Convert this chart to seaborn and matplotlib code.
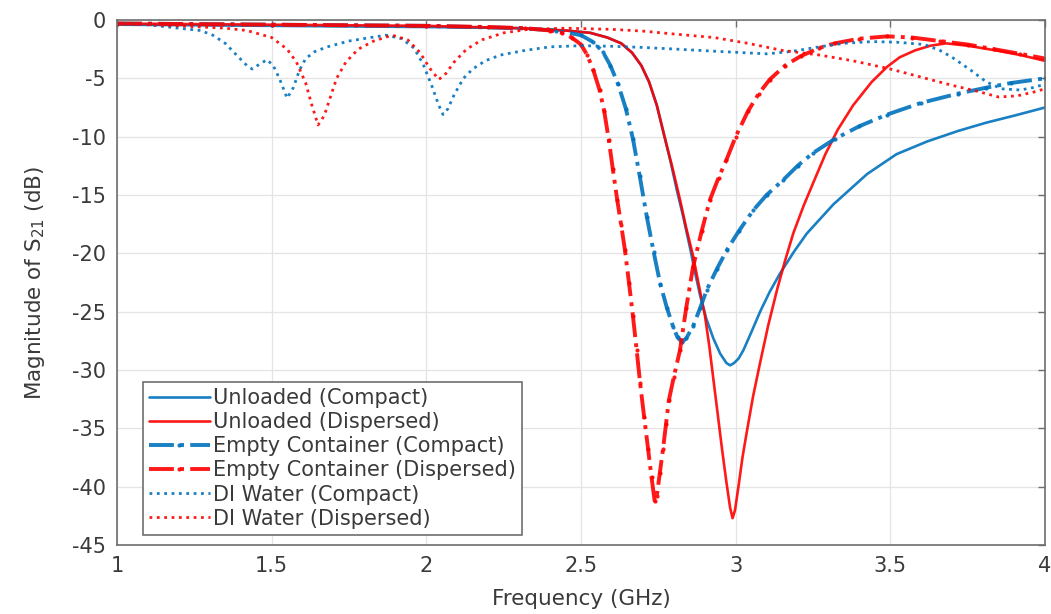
import numpy as np
import pandas as pd
import matplotlib
matplotlib.use("Agg")
import matplotlib.pyplot as plt
import seaborn as sns

# S21 magnitude curves (frequency in GHz, magnitude in dB)
unl_comp_f = [1.0, 1.5, 2.0, 2.3, 2.45, 2.53, 2.585, 2.63, 2.665, 2.695, 2.72, 2.745, 2.77, 2.79,
              2.81, 2.83, 2.853, 2.87, 2.885, 2.905, 2.928, 2.95, 2.97, 2.982, 2.995, 3.01, 3.025,
              3.05, 3.079, 3.11, 3.144, 3.19, 3.23, 3.316, 3.425, 3.52, 3.62, 3.72, 3.81, 3.90, 4.0]
unl_comp_db = [-0.4, -0.5, -0.6, -0.7, -0.9, -1.1, -1.5, -2.0, -2.8, -3.9, -5.3, -7.3, -10.0, -12.2,
               -14.6, -16.8, -19.6, -21.8, -23.6, -25.6, -27.3, -28.6, -29.4, -29.6, -29.4, -29.0, -28.3,
               -26.8, -25.0, -23.3, -21.7, -19.8, -18.3, -15.8, -13.2, -11.5, -10.4, -9.5, -8.8, -8.2, -7.5]

unl_disp_f = [1.0, 1.5, 2.0, 2.3, 2.45, 2.53, 2.585, 2.63, 2.665, 2.695, 2.72, 2.745, 2.77, 2.795,
              2.82, 2.84, 2.863, 2.88, 2.901, 2.915, 2.928, 2.943, 2.956, 2.97, 2.982, 2.99, 2.998,
              3.01, 3.022, 3.036, 3.056, 3.078, 3.105, 3.134, 3.16, 3.186, 3.22, 3.25, 3.29, 3.33,
              3.38, 3.44, 3.49, 3.53, 3.58, 3.63, 3.68, 3.75, 3.84, 3.92, 4.0]
unl_disp_db = [-0.3, -0.4, -0.5, -0.7, -0.9, -1.1, -1.5, -2.0, -2.8, -3.9, -5.3, -7.3, -10.0, -12.6,
               -15.4, -17.8, -20.3, -22.6, -25.4, -28.0, -30.8, -34.0, -36.8, -39.6, -41.8, -42.7, -42.0,
               -39.8, -37.5, -35.3, -32.3, -29.5, -26.2, -23.1, -20.6, -18.3, -15.9, -14.0, -11.5, -9.4,
               -7.3, -5.3, -4.0, -3.2, -2.6, -2.2, -2.0, -2.2, -2.6, -3.0, -3.5]

empty_comp_f = [1.0, 1.5, 2.0, 2.3, 2.42, 2.50, 2.54, 2.57, 2.595, 2.62, 2.645, 2.668, 2.69, 2.713,
                2.735, 2.756, 2.778, 2.798, 2.812, 2.826, 2.84, 2.863, 2.885, 2.907, 2.94, 2.972, 3.01,
                3.057, 3.10, 3.154, 3.20, 3.25, 3.32, 3.40, 3.49, 3.60, 3.72, 3.81, 3.89, 4.0]
empty_comp_db = [-0.3, -0.4, -0.5, -0.7, -0.9, -1.3, -1.9, -2.7, -3.9, -5.5, -7.6, -10.2, -13.4, -16.9,
                 -19.9, -22.6, -24.7, -26.3, -27.2, -27.6, -27.3, -26.2, -24.7, -23.1, -21.3, -19.7, -18.1,
                 -16.3, -15.0, -13.7, -12.5, -11.4, -10.2, -9.1, -8.1, -7.1, -6.3, -5.8, -5.4, -5.0]

empty_disp_f = [1.0, 1.5, 2.0, 2.2, 2.32, 2.40, 2.44, 2.47, 2.50, 2.52, 2.54, 2.56, 2.575, 2.59, 2.603,
                2.617, 2.63, 2.642, 2.655, 2.668, 2.68, 2.691, 2.704, 2.717, 2.728, 2.738, 2.745, 2.755,
                2.765, 2.775, 2.784, 2.80, 2.82, 2.84, 2.862, 2.89, 2.917, 2.945, 2.97, 3.00, 3.04,
                3.075, 3.11, 3.16, 3.21, 3.27, 3.32, 3.40, 3.49, 3.57, 3.66, 3.75, 3.835, 3.92, 4.0]
empty_disp_db = [-0.3, -0.4, -0.5, -0.6, -0.7, -0.9, -1.1, -1.5, -2.1, -3.0, -4.3, -6.0, -7.8, -10.3, -12.8,
                 -15.4, -17.6, -19.7, -22.5, -25.4, -28.3, -31.1, -34.0, -36.8, -39.2, -41.2, -40.8, -38.8,
                 -36.8, -34.6, -32.6, -30.6, -28.3, -24.7, -21.2, -18.1, -15.4, -13.5, -12.0, -10.0, -7.8,
                 -6.3, -5.1, -3.9, -3.1, -2.4, -2.0, -1.6, -1.4, -1.5, -1.8, -2.1, -2.5, -2.9, -3.3]

di_comp_f = [1.0, 1.1, 1.2, 1.27, 1.31, 1.35, 1.39, 1.42, 1.437, 1.46, 1.485, 1.505, 1.525, 1.55, 1.57,
             1.59, 1.61, 1.64, 1.68, 1.75, 1.82, 1.87, 1.92, 1.96, 1.99, 2.02, 2.04, 2.054, 2.07, 2.09,
             2.12, 2.15, 2.19, 2.24, 2.32, 2.40, 2.50, 2.60, 2.70, 2.81, 2.95, 3.10, 3.18, 3.27, 3.35,
             3.44, 3.52, 3.61, 3.66, 3.70, 3.76, 3.81, 3.86, 3.92, 3.96, 4.0]
di_comp_db = [-0.3, -0.4, -0.7, -0.9, -1.3, -2.0, -3.1, -3.9, -4.2, -3.8, -3.4, -3.9, -5.0, -6.7, -5.8,
              -4.3, -3.3, -2.7, -2.3, -1.8, -1.5, -1.3, -1.6, -2.4, -3.8, -5.8, -7.3, -8.1, -7.6, -6.4,
              -5.0, -4.2, -3.5, -3.0, -2.6, -2.3, -2.2, -2.25, -2.35, -2.5, -2.7, -2.9, -2.7, -2.3, -2.0,
              -1.85, -1.9, -2.1, -2.6, -3.2, -4.3, -5.3, -5.9, -6.0, -5.8, -5.5]

di_disp_f = [1.0, 1.2, 1.35, 1.42, 1.50, 1.55, 1.58, 1.61, 1.63, 1.65, 1.67, 1.69, 1.71, 1.74, 1.78,
             1.83, 1.89, 1.94, 1.98, 2.01, 2.04, 2.06, 2.09, 2.13, 2.18, 2.25, 2.33, 2.45, 2.60, 2.70,
             2.80, 2.93, 3.04, 3.15, 3.27, 3.38, 3.50, 3.60, 3.70, 3.78, 3.85, 3.91, 3.96, 4.0]
di_disp_db = [-0.3, -0.5, -0.7, -0.9, -1.5, -2.5, -3.6, -5.4, -7.3, -9.0, -8.2, -6.6, -5.0, -3.6, -2.5,
              -1.8, -1.3, -1.7, -2.8, -4.1, -5.1, -4.7, -3.6, -2.5, -1.7, -1.1, -0.8, -0.7, -0.8, -0.95,
              -1.2, -1.5, -2.0, -2.6, -3.0, -3.5, -4.2, -4.9, -5.6, -6.1, -6.6, -6.5, -6.2, -5.9]

x_ticks = [1, 1.5, 2, 2.5, 3, 3.5, 4]
x_tick_labels = ["1", "1.5", "2", "2.5", "3", "3.5", "4"]
y_ticks = [0, -5, -10, -15, -20, -25, -30, -35, -40, -45]

BLUE = "#0072BD"
RED = "#FF0000"

# label, freq, magnitude, colour, linestyle, linewidth, marker
series = [
    ("Unloaded (Compact)", unl_comp_f, unl_comp_db, BLUE, "-", 1.9, None),
    ("Unloaded (Dispersed)", unl_disp_f, unl_disp_db, RED, "-", 1.9, None),
    ("Empty Container (Compact)", empty_comp_f, empty_comp_db, BLUE, "-.", 2.8, "."),
    ("Empty Container (Dispersed)", empty_disp_f, empty_disp_db, RED, "-.", 2.8, "."),
    ("DI Water (Compact)", di_comp_f, di_comp_db, BLUE, ":", 2.0, None),
    ("DI Water (Dispersed)", di_disp_f, di_disp_db, RED, ":", 2.0, None),
]

sns.set_style("whitegrid")
plt.rcParams["font.family"] = ["DejaVu Sans"]
plt.rcParams["axes.unicode_minus"] = False

fig, ax = plt.subplots(figsize=(10.51, 6.14), dpi=100)
fig.subplots_adjust(left=0.1113, right=0.9943, bottom=0.1124, top=0.9674)

for label, f, db, color, ls, lw, mk in series:
    df = pd.DataFrame({"freq": f, "mag": db})
    sns.lineplot(data=df, x="freq", y="mag", ax=ax, color=color, linestyle=ls,
                 linewidth=lw, marker=mk, markersize=6, markeredgewidth=0,
                 label=label, sort=False, estimator=None, alpha=0.9)

ax.set_xlim(1, 4)
ax.set_ylim(-45, 0)
ax.set_xticks(x_ticks)
ax.set_xticklabels(x_tick_labels)
ax.set_yticks(y_ticks)

ax.grid(True, color="#e4e4e4", linewidth=0.9)
for sp in ax.spines.values():
    sp.set_color("#6e6e6e")
    sp.set_linewidth(1.2)
ax.tick_params(axis="both", which="both", direction="in", top=True, right=True,
               length=5, width=1, color="#6e6e6e", labelsize=15, labelcolor="#3a3a3a", pad=8)

ax.set_xlabel("Frequency (GHz)", fontsize=15.5, color="#3a3a3a", labelpad=9)
ax.set_ylabel("Magnitude of S$_{21}$ (dB)", fontsize=15.5, color="#3a3a3a", labelpad=18)

leg = ax.legend(loc="lower left", bbox_to_anchor=(0.028, 0.019), borderaxespad=0,
                fontsize=15, frameon=True, fancybox=False, handlelength=2.9,
                handletextpad=0.15, labelspacing=0.2, borderpad=0.3)
leg.get_frame().set_edgecolor("#6e6e6e")
leg.get_frame().set_linewidth(1.2)
leg.get_frame().set_alpha(1)
for t in leg.get_texts():
    t.set_color("#3a3a3a")

fig.savefig("out.png", dpi=100)
